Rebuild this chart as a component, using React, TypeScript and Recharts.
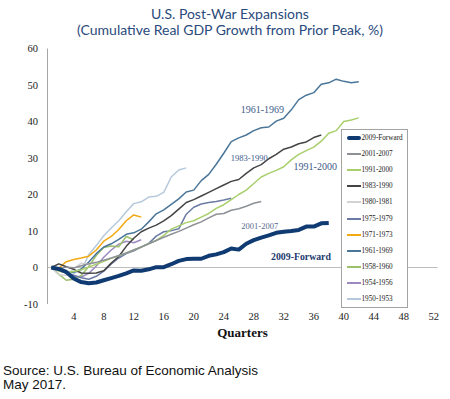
import React from 'react';
import { LineChart, Line, XAxis, YAxis, ReferenceLine, ReferenceDot, Legend, Label } from 'recharts';

const quarters = [1, 2, 3, 4, 5, 6, 7, 8, 9, 10, 11, 12, 13, 14, 15, 16, 17, 18, 19, 20, 21, 22, 23, 24, 25, 26, 27, 28, 29, 30, 31, 32, 33, 34, 35, 36, 37, 38, 39, 40, 41, 42];
const xTicks = [4, 8, 12, 16, 20, 24, 28, 32, 36, 40, 44, 48, 52];
const yTicks = [-10, 0, 10, 20, 30, 40, 50, 60];

const s2009 = [0, -0.4, -1.2, -3.0, -4.0, -4.3, -4.1, -3.5, -2.9, -2.3, -1.6, -0.8, -0.9, -0.5, 0.1, 0.1, 0.9, 1.8, 2.3, 2.4, 2.4, 3.2, 3.6, 4.2, 5.2, 4.9, 6.5, 7.5, 8.2, 8.8, 9.5, 9.8, 10.0, 10.3, 11.2, 11.2, 12.1, 12.2];
const s2001 = [0, -0.3, 0.1, -0.1, 0.5, 1.0, 1.4, 2.0, 2.6, 3.3, 4.0, 4.8, 5.6, 6.5, 7.4, 8.3, 9.1, 9.9, 10.8, 11.7, 12.5, 13.6, 14.6, 14.8, 15.7, 16.1, 16.8, 17.6, 18.1];
const s1991 = [0, -0.9, -1.4, -1.1, -0.6, 0.1, 0.9, 1.7, 2.5, 3.2, 4.0, 4.8, 5.6, 6.5, 7.4, 8.8, 10.5, 11.4, 12.3, 12.8, 13.8, 14.8, 16.2, 17.2, 18.6, 20.0, 21.2, 23.0, 24.8, 25.8, 26.6, 27.6, 29.5, 31.0, 32.0, 33.0, 34.6, 36.8, 37.5, 40.0, 40.4, 41.0];
const s1983 = [0, 1.0, 0.2, -0.5, -1.5, -1.6, -1.5, -0.9, 1.2, 3.0, 5.8, 8.0, 9.8, 10.8, 11.6, 12.8, 14.2, 16.0, 17.8, 18.6, 19.6, 20.6, 21.6, 22.6, 23.6, 24.1, 25.8, 27.3, 28.2, 29.8, 31.0, 32.4, 33.0, 33.9, 34.4, 35.6, 36.3];
const s1980 = [0, -2.0, -2.1, -0.4, 1.2, 0.9, 1.6];
const s1975 = [0, -0.9, -1.5, -2.1, -2.8, -3.2, -2.4, -1.0, 1.0, 2.6, 3.8, 4.6, 5.6, 6.6, 8.6, 9.8, 10.1, 10.6, 14.6, 16.5, 17.4, 17.8, 18.1, 18.5, 19.0];
const s1971 = [0, -0.2, 1.6, 2.2, 2.6, 3.1, 4.8, 7.2, 8.5, 10.4, 12.8, 14.4, 13.8];
const s1961 = [0, -0.6, -1.2, -1.3, -0.4, 1.5, 3.8, 5.6, 6.5, 7.7, 9.1, 9.5, 10.5, 12.5, 14.7, 15.8, 17.3, 18.8, 20.7, 21.2, 23.8, 25.5, 28.3, 31.3, 34.5, 35.5, 36.3, 37.5, 38.3, 38.5, 40.1, 40.9, 43.2, 46.0, 47.2, 47.9, 50.2, 50.6, 51.6, 51.0, 50.6, 50.9];
const s1958 = [0, -1.8, -3.5, -3.2, -2.2, 0.3, 3.3, 5.5, 5.9, 5.7, 8.5, 7.6];
const s1954 = [0, -0.5, -1.5, -2.4, -2.6, -1.6, 0.4, 2.8, 4.8, 6.4, 7.2, 6.8, 7.6];
const s1950 = [0, -0.5, -1.0, -1.6, -0.8, 3.5, 6.0, 8.7, 10.8, 12.8, 15.3, 17.5, 18.0, 19.3, 19.5, 20.6, 24.8, 26.7, 27.3];

type Series = { key: string; name: string; color: string; width: number; values: number[] };

// legend order (top to bottom)
const series: Series[] = [
  { key: 's2009', name: '2009-Forward', color: '#0f3a72', width: 4, values: s2009 },
  { key: 's2001', name: '2001-2007', color: '#8d9195', width: 1.5, values: s2001 },
  { key: 's1991', name: '1991-2000', color: '#a9cf6c', width: 1.5, values: s1991 },
  { key: 's1983', name: '1983-1990', color: '#444444', width: 1.5, values: s1983 },
  { key: 's1980', name: '1980-1981', color: '#d3d3d3', width: 1.5, values: s1980 },
  { key: 's1975', name: '1975-1979', color: '#6b7ba6', width: 1.5, values: s1975 },
  { key: 's1971', name: '1971-1973', color: '#f2a912', width: 1.5, values: s1971 },
  { key: 's1961', name: '1961-1969', color: '#4a7699', width: 1.5, values: s1961 },
  { key: 's1958', name: '1958-1960', color: '#9dc06c', width: 1.5, values: s1958 },
  { key: 's1954', name: '1954-1956', color: '#9c89c0', width: 1.5, values: s1954 },
  { key: 's1950', name: '1950-1953', color: '#b6c9dc', width: 1.5, values: s1950 },
];

const annotations = [
  { text: '1961-1969', q: 29.15, v: 43.2, color: '#3b5c8c', size: 10, bold: false },
  { text: '1983-1990', q: 27.4, v: 29.9, color: '#3b5a8a', size: 8.5, bold: false },
  { text: '1991-2000', q: 36.2, v: 27.6, color: '#3b5a8a', size: 10, bold: false },
  { text: '2001-2007', q: 28.8, v: 11.4, color: '#5a6990', size: 8.5, bold: false },
  { text: '2009-Forward', q: 34.3, v: 3.0, color: '#1d3a6e', size: 9.8, bold: true },
];

const data = quarters.map((q, i) => {
  const row: Record<string, number | undefined> = { q };
  series.forEach((s) => {
    row[s.key] = i < s.values.length ? s.values[i] : undefined;
  });
  return row;
});

const serif = '"Liberation Serif", "Times New Roman", serif';

const renderLegend = () => (
  <div
    style={{
      width: 65,
      border: '1px solid #a3a3a3',
      background: '#fff',
      boxSizing: 'content-box',
    }}
  >
    {series.map((s) => (
      <div key={s.key} style={{ height: 16.1, display: 'flex', alignItems: 'center' }}>
        <div style={{ width: 5 }} />
        <div style={{ width: 14, height: s.width > 2 ? 3.5 : 2, background: s.color, borderRadius: s.width > 2 ? 2 : 0 }} />
        <span style={{ fontFamily: serif, fontSize: 7.2, color: '#222', marginLeft: 0.5, whiteSpace: 'nowrap' }}>{s.name}</span>
      </div>
    ))}
  </div>
);

export default function App() {
  const drawOrder = [...series].reverse();
  return (
    <div style={{ position: 'absolute', left: 0, top: 0, width: 450, height: 399, background: '#fff' }}>
      <div
        style={{
          position: 'absolute',
          top: 6,
          left: 0,
          width: 460,
          textAlign: 'center',
          fontFamily: 'Lato, "Noto Sans", sans-serif',
          fontSize: 14,
          lineHeight: '16px',
          color: '#2a4a7b',
        }}
      >
        <div>U.S. Post-War Expansions</div>
        <div>(Cumulative Real GDP Growth from Prior Peak, %)</div>
      </div>
      <LineChart
        width={450}
        height={399}
        data={data}
        margin={{ top: 48.5, right: 12.5, bottom: 62.5, left: 0 }}
      >
        <XAxis
          dataKey="q"
          type="number"
          domain={[0.5, 52.5]}
          ticks={xTicks}
          axisLine={false}
          tickLine={false}
          tickMargin={3}
          height={32.5}
          tick={{ fill: '#1a1a1a', fontSize: 10.5, fontFamily: serif }}
          interval={0}
        >
          <Label value="Quarters" position="insideBottom" offset={0} fill="#111" fontSize={13} fontWeight="bold" fontFamily={serif} />
        </XAxis>
        <YAxis
          type="number"
          domain={[-10, 60]}
          ticks={yTicks}
          width={47.5}
          axisLine={{ stroke: '#a6a6a6' }}
          tickLine={false}
          tickMargin={3.5}
          tick={{ fill: '#1a1a1a', fontSize: 10.5, fontFamily: serif }}
          interval={0}
        />
        <ReferenceLine y={0} stroke="#bdbdbd" strokeWidth={1} />
        {drawOrder.map((s) => (
          <Line
            key={s.key}
            dataKey={s.key}
            name={s.name}
            stroke={s.color}
            strokeWidth={s.width}
            dot={false}
            activeDot={false}
            isAnimationActive={false}
            type="linear"
            strokeLinejoin="round"
          />
        ))}
        {annotations.map((a) => (
          <ReferenceDot
            key={a.text}
            x={a.q}
            y={a.v}
            r={0}
            fill="none"
            stroke="none"
            label={{
              value: a.text,
              position: 'center',
              fill: a.color,
              fontSize: a.size,
              fontFamily: serif,
              fontWeight: a.bold ? 'bold' : 'normal',
            }}
          />
        ))}
        <Legend
          layout="vertical"
          align="center"
          verticalAlign="middle"
          content={renderLegend}
          wrapperStyle={{ position: 'absolute', left: 341, top: 129, width: 67, height: 'auto' }}
        />
      </LineChart>
      <div
        style={{
          position: 'absolute',
          left: 3,
          top: 364,
          fontFamily: '"Liberation Sans", Arial, sans-serif',
          fontSize: 13.5,
          lineHeight: '14px',
          color: '#111',
        }}
      >
        <div>Source: U.S. Bureau of Economic Analysis</div>
        <div>May 2017.</div>
      </div>
    </div>
  );
}
